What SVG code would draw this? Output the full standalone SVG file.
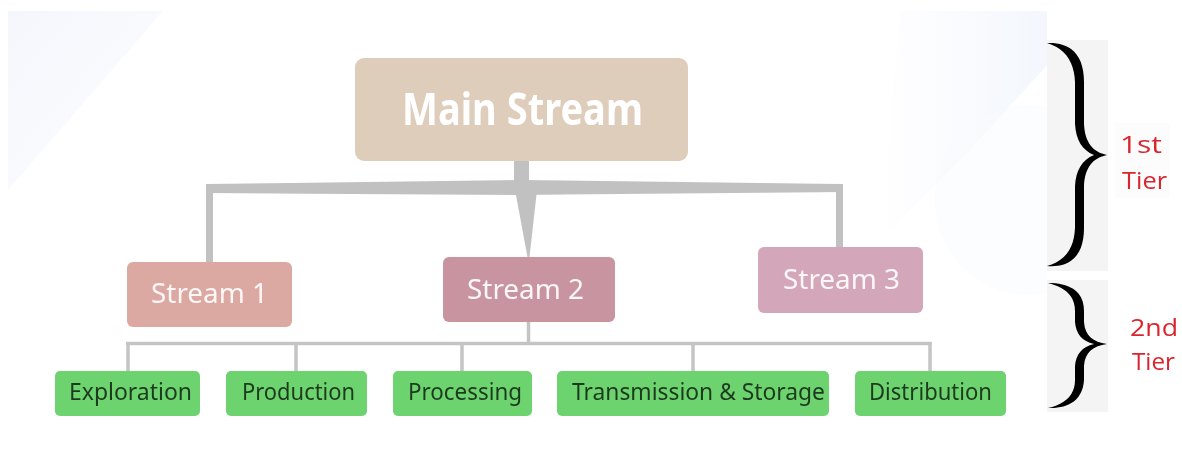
<svg xmlns="http://www.w3.org/2000/svg" width="1182" height="457" viewBox="0 0 1182 457">
  <defs>
    <linearGradient id="hazeTL" x1="0" y1="0" x2="1" y2="1">
      <stop offset="0" stop-color="#f0f3fc"/>
      <stop offset="1" stop-color="#fcfdff"/>
    </linearGradient>
    <linearGradient id="hazeTR" x1="0" y1="0" x2="1" y2="0">
      <stop offset="0" stop-color="#ffffff"/>
      <stop offset="1" stop-color="#eef3fc"/>
    </linearGradient>
    <clipPath id="panel">
      <rect x="8" y="11" width="1039" height="440"/>
    </clipPath>
    <style>
      .main { font-family: "Noto Sans", "Open Sans", sans-serif; font-weight: 700; font-size: 44px; fill: #ffffff; }
      .stream { font-family: "Noto Sans", "Open Sans", sans-serif; font-size: 28px; fill: #fdf7f7; }
      .leaf { font-family: "Noto Sans", "Open Sans", sans-serif; font-size: 23px; fill: #1d3a1e; }
      .tier { font-family: "Open Sans", "Noto Sans", sans-serif; font-size: 24px; fill: #d9262e; }
      .bar { fill: #c1c1c1; }
      .link { stroke: #c4c4c4; stroke-width: 3.5; fill: none; }
      .leafbox { fill: #6dd36f; }
      .brace { fill: #000000; }
    </style>
  </defs>

  <!-- page background with soft tinted corners -->
  <rect x="0" y="0" width="1182" height="457" fill="#ffffff"/>
  <g clip-path="url(#panel)" opacity="0.7">
    <polygon points="8,11 163,11 8,190" fill="url(#hazeTL)"/>
    <polygon points="900,11 1052,11 1052,60 960,160 880,240" fill="url(#hazeTR)"/>
    <circle cx="1030" cy="200" r="95" fill="#f6f8fe" opacity="0.6"/>
  </g>

  <!-- tier brackets backdrop -->
  <rect x="1047" y="40" width="61" height="231" fill="#f4f4f4"/>
  <rect x="1047" y="280" width="61" height="132" fill="#f4f4f4"/>
  <rect x="1115" y="123" width="55" height="75" fill="#fcfcfc"/>

  <!-- connectors -->
  <g id="connectors">
    <rect class="bar" x="514" y="160" width="15" height="26"/>
    <polygon class="bar" points="206,184 521,180 843,184 843,192 521,195 206,193"/>
    <rect class="bar" x="206" y="184" width="7" height="78"/>
    <rect class="bar" x="836" y="184" width="7" height="63"/>
    <polygon class="bar" points="515,190 537,190 529.5,257 527.5,257"/>
    <line class="link" x1="528.5" y1="322" x2="528.5" y2="344"/>
    <line class="link" x1="126" y1="343.5" x2="931.5" y2="343.5"/>
    <line class="link" x1="128" y1="342" x2="128" y2="371"/>
    <line class="link" x1="296" y1="342" x2="296" y2="371"/>
    <line class="link" x1="462" y1="342" x2="462" y2="371"/>
    <line class="link" x1="693" y1="342" x2="693" y2="371"/>
    <line class="link" x1="930" y1="342" x2="930" y2="371"/>
  </g>

  <!-- first tier -->
  <g id="main-stream">
    <rect x="355" y="58" width="333" height="103" rx="9" fill="#dfcdbc"/>
    <text class="main" x="522.5" y="125" text-anchor="middle" textLength="241" lengthAdjust="spacingAndGlyphs">Main Stream</text>
  </g>

  <g id="stream-1">
    <rect x="127" y="262" width="165" height="65" rx="6" fill="#dca8a2"/>
    <text class="stream" x="209.5" y="303" text-anchor="middle" textLength="117" lengthAdjust="spacingAndGlyphs">Stream 1</text>
  </g>
  <g id="stream-2">
    <rect x="443" y="257" width="172" height="65" rx="6" fill="#c8949f"/>
    <text class="stream" x="525.5" y="299" text-anchor="middle" textLength="117" lengthAdjust="spacingAndGlyphs">Stream 2</text>
  </g>
  <g id="stream-3">
    <rect x="758" y="247" width="165" height="66" rx="6" fill="#d3a6b9"/>
    <text class="stream" x="841.5" y="289" text-anchor="middle" textLength="117" lengthAdjust="spacingAndGlyphs">Stream 3</text>
  </g>

  <!-- second tier -->
  <g id="exploration">
    <rect class="leafbox" x="55" y="371" width="145" height="45" rx="5"/>
    <text class="leaf" x="130.5" y="400" text-anchor="middle" textLength="123" lengthAdjust="spacingAndGlyphs">Exploration</text>
  </g>
  <g id="production">
    <rect class="leafbox" x="226" y="371" width="141" height="45" rx="5"/>
    <text class="leaf" x="298.5" y="400" text-anchor="middle" textLength="113" lengthAdjust="spacingAndGlyphs">Production</text>
  </g>
  <g id="processing">
    <rect class="leafbox" x="393" y="371" width="139" height="45" rx="5"/>
    <text class="leaf" x="465" y="400" text-anchor="middle" textLength="114" lengthAdjust="spacingAndGlyphs">Processing</text>
  </g>
  <g id="transmission-storage">
    <rect class="leafbox" x="557" y="371" width="272" height="45" rx="5"/>
    <text class="leaf" x="698.5" y="400" text-anchor="middle" textLength="253" lengthAdjust="spacingAndGlyphs">Transmission &amp; Storage</text>
  </g>
  <g id="distribution">
    <rect class="leafbox" x="855" y="371" width="151" height="45" rx="5"/>
    <text class="leaf" x="930.5" y="400" text-anchor="middle" textLength="123" lengthAdjust="spacingAndGlyphs">Distribution</text>
  </g>

  <!-- tier brackets -->
  <g id="tier-1">
    <path class="brace" d="M1047,43 C1072,42 1084,56 1084,82 L1084,124 C1085,143 1093,152 1107,155 C1093,158 1085,167 1084,186 L1084,228 C1084,254 1072,268 1047,266 C1064,261 1074,250 1075,228 L1075,186 C1076,170 1082,160 1094,155 C1082,150 1076,140 1075,124 L1075,82 C1074,60 1064,48 1047,43 Z"/>
    <text class="tier" x="1141" y="153" text-anchor="middle" textLength="42" lengthAdjust="spacingAndGlyphs">1st</text>
    <text class="tier" x="1144.5" y="189" text-anchor="middle" textLength="45" lengthAdjust="spacingAndGlyphs">Tier</text>
  </g>
  <g id="tier-2">
    <path class="brace" d="M1048,283 C1071,283 1084,292 1084,311 L1084,322 C1085,336 1093,342 1107,344 C1093,346 1085,352 1084,366 L1084,380 C1083,398 1071,409 1048,408 C1064,404 1075,396 1075,380 L1075,366 C1076,354 1082,347 1094,344 C1082,341 1076,334 1075,322 L1075,311 C1075,295 1064,287 1048,283 Z"/>
    <text class="tier" x="1154" y="336" text-anchor="middle" textLength="48" lengthAdjust="spacingAndGlyphs">2nd</text>
    <text class="tier" x="1153.5" y="370" text-anchor="middle" textLength="43" lengthAdjust="spacingAndGlyphs">Tier</text>
  </g>
</svg>
